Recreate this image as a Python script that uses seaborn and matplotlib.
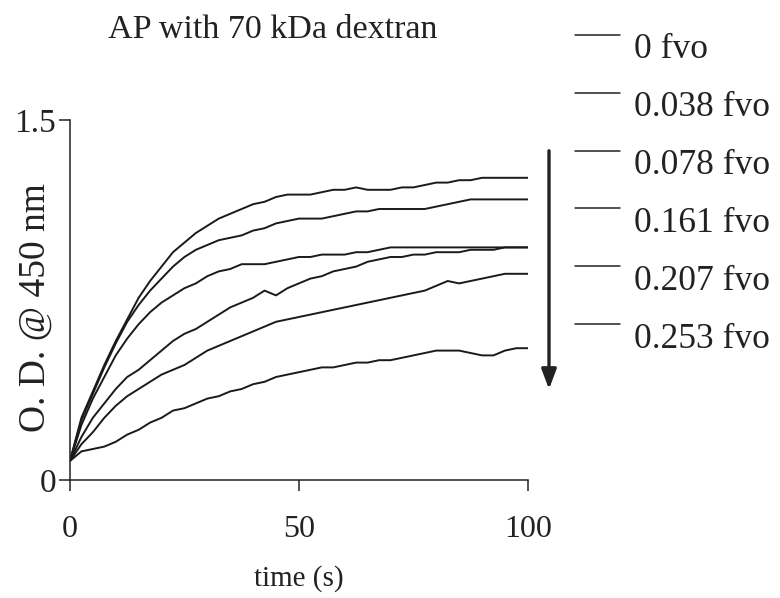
import numpy as np
import pandas as pd
import seaborn as sns
import matplotlib
matplotlib.use("Agg")
import matplotlib.pyplot as plt
from matplotlib.lines import Line2D

sns.set_style("white")
plt.rcParams['font.family'] = ['Liberation Serif', 'DejaVu Serif']

time = [0, 2.5, 5, 7.5, 10, 12.5, 15, 17.5, 20, 22.5, 25, 27.5, 30, 32.5, 35,
        37.5, 40, 42.5, 45, 47.5, 50, 52.5, 55, 57.5, 60, 62.5, 65, 67.5, 70,
        72.5, 75, 77.5, 80, 82.5, 85, 87.5, 90, 92.5, 95, 97.5, 100]

od_0 = [0.08, 0.26, 0.37, 0.48, 0.58, 0.67, 0.76, 0.83, 0.89, 0.95, 0.99, 1.03,
        1.06, 1.09, 1.11, 1.13, 1.15, 1.16, 1.18, 1.19, 1.19, 1.19, 1.20, 1.21,
        1.21, 1.22, 1.21, 1.21, 1.21, 1.22, 1.22, 1.23, 1.24, 1.24, 1.25, 1.25,
        1.26, 1.26, 1.26, 1.26, 1.26]
od_038 = [0.08, 0.25, 0.36, 0.47, 0.57, 0.66, 0.73, 0.79, 0.84, 0.89, 0.93, 0.96,
          0.98, 1.00, 1.01, 1.02, 1.04, 1.05, 1.07, 1.08, 1.09, 1.09, 1.09, 1.10,
          1.11, 1.12, 1.12, 1.13, 1.13, 1.13, 1.13, 1.13, 1.14, 1.15, 1.16, 1.17,
          1.17, 1.17, 1.17, 1.17, 1.17]
od_078 = [0.08, 0.23, 0.34, 0.43, 0.52, 0.59, 0.65, 0.70, 0.74, 0.77, 0.80, 0.82,
          0.85, 0.87, 0.88, 0.90, 0.90, 0.90, 0.91, 0.92, 0.93, 0.93, 0.94, 0.94,
          0.94, 0.95, 0.95, 0.96, 0.97, 0.97, 0.97, 0.97, 0.97, 0.97, 0.97, 0.97,
          0.97, 0.97, 0.97, 0.97, 0.97]
od_161 = [0.08, 0.18, 0.26, 0.32, 0.38, 0.43, 0.46, 0.50, 0.54, 0.58, 0.61, 0.63,
          0.66, 0.69, 0.72, 0.74, 0.76, 0.79, 0.77, 0.80, 0.82, 0.84, 0.85, 0.87,
          0.88, 0.89, 0.91, 0.92, 0.93, 0.93, 0.94, 0.94, 0.95, 0.95, 0.95, 0.96,
          0.96, 0.96, 0.97, 0.97, 0.97]
od_207 = [0.08, 0.15, 0.20, 0.26, 0.31, 0.35, 0.38, 0.41, 0.44, 0.46, 0.48, 0.51,
          0.54, 0.56, 0.58, 0.60, 0.62, 0.64, 0.66, 0.67, 0.68, 0.69, 0.70, 0.71,
          0.72, 0.73, 0.74, 0.75, 0.76, 0.77, 0.78, 0.79, 0.81, 0.83, 0.82, 0.83,
          0.84, 0.85, 0.86, 0.86, 0.86]
od_253 = [0.08, 0.12, 0.13, 0.14, 0.16, 0.19, 0.21, 0.24, 0.26, 0.29, 0.30, 0.32,
          0.34, 0.35, 0.37, 0.38, 0.40, 0.41, 0.43, 0.44, 0.45, 0.46, 0.47, 0.47,
          0.48, 0.49, 0.49, 0.50, 0.50, 0.51, 0.52, 0.53, 0.54, 0.54, 0.54, 0.53,
          0.52, 0.52, 0.54, 0.55, 0.55]

labels = ['0 fvo', '0.038 fvo', '0.078 fvo', '0.161 fvo', '0.207 fvo', '0.253 fvo']
series = [od_0, od_038, od_078, od_161, od_207, od_253]

rows = []
for lab, vals in zip(labels, series):
    for t, v in zip(time, vals):
        rows.append({'time': t, 'od': v, 'fvo': lab})
df = pd.DataFrame(rows)

fig = plt.figure(figsize=(7.8, 5.98), dpi=100)
ax = fig.add_axes([0.0897, 0.197, 0.587, 0.602])

sns.lineplot(data=df, x='time', y='od', hue='fvo', palette=['#1a1a1a'] * 6,
             linewidth=1.4, legend=False, ax=ax)

ax.set_xlim(0, 100)
ax.set_ylim(0, 1.5)
ax.set_xticks([0, 50, 100])
ax.set_yticks([0, 1.5])
ax.set_yticklabels(['0', '1.5'])
ax.tick_params(axis='x', direction='out', length=8, width=1.1, pad=17,
               labelsize=23, colors='#222222', bottom=True)
ax.tick_params(axis='y', direction='out', length=8, width=1.1, pad=2,
               labelsize=24, colors='#222222', left=True)
for s in ['top', 'right']:
    ax.spines[s].set_visible(False)
for s in ['left', 'bottom']:
    ax.spines[s].set_linewidth(1.1)
    ax.spines[s].set_color('#222222')

ax.set_xlabel('time (s)', fontsize=21, color='#222222', va='center')
ax.xaxis.set_label_coords(0.5, -0.272)
ax.set_ylabel('O. D. @ 450 nm', fontsize=27, color='#222222', va='center')
ax.yaxis.set_label_coords(-0.075, 0.48)

fig.text(0.35, 0.95, 'AP with 70 kDa dextran', ha='center', va='center',
         fontsize=24.5, color='#222222')

# custom key on the right
for i, lab in enumerate(labels):
    ly = 1 - (35 + i * 57.8) / 598
    fig.add_artist(Line2D([575 / 780, 620 / 780], [ly, ly], color='#222222',
                          linewidth=1.1, transform=fig.transFigure))
    fig.text(634 / 780, ly - 15 / 598, lab, ha='left', va='center',
             fontsize=25.5, color='#222222')

ax.annotate('', xy=(549 / 780, 1 - 392 / 598), xytext=(549 / 780, 1 - 148 / 598),
            xycoords='figure fraction', textcoords='figure fraction',
            arrowprops=dict(arrowstyle='-|>,head_length=1.2,head_width=0.45',
                            color='#222222', lw=2.4))

fig.savefig('out.png', dpi=100)
